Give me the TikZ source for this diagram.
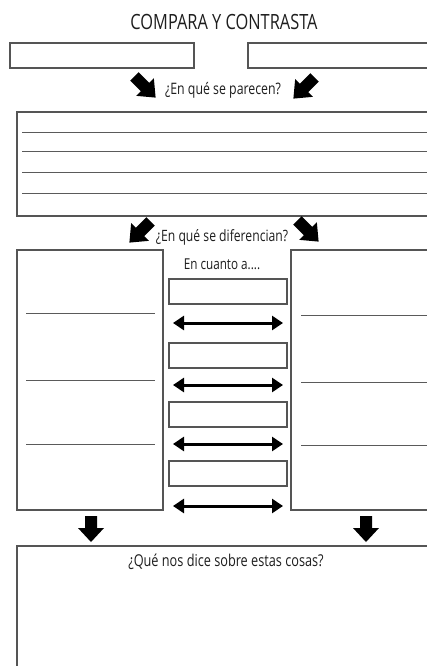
\documentclass[tikz,border=0pt]{standalone}
\usepackage{fontspec}
\setmainfont{Open Sans}[FakeStretch=0.78]
\usetikzlibrary{arrows.meta}
\definecolor{boxgray}{HTML}{555555}
\definecolor{linegray}{HTML}{5A5A5A}
\definecolor{ink}{HTML}{1E1E1E}
\begin{document}
\begin{tikzpicture}[x=1pt,y=-1pt,
  box/.style={draw=boxgray, line width=1.1pt, anchor=north west,
              inner sep=0pt, outer sep=0pt, fill=white},
  writeline/.style={draw=linegray, line width=0.9pt},
  label/.style={text=ink, inner sep=0pt},
  twoway/.style={line width=3pt, black,
                 {Triangle[length=11pt,width=14pt]}-{Triangle[length=11pt,width=14pt]}},
  diagarrow/.pic={\fill[black] (-6,-15) -- (6,-15) -- (6,0) -- (12.5,0)
                   -- (0,15) -- (-12.5,0) -- (-6,0) -- cycle;},
  downarrow/.pic={\fill[black] (-6,-13) -- (6,-13) -- (6,-1) -- (13,-1)
                   -- (0,13) -- (-13,-1) -- (-6,-1) -- cycle;}
]
\useasboundingbox (0,0) rectangle (427,666);
\clip (0,0) rectangle (427,666);
\fill[white] (0,0) rectangle (427,666);

% heading
\node[label, font=\fontsize{21}{21}\selectfont] (title) at (224,22) {COMPARA Y CONTRASTA};

% the two things being compared
\node[box, minimum width=184pt, minimum height=25pt] (thingA) at (10,43) {};
\node[box, minimum width=190pt, minimum height=25pt] (thingB) at (248,43) {};

% similarities
\pic at (145,87) [rotate=45] {diagarrow};
\pic at (304,88) [rotate=-45] {diagarrow};
\node[label, font=\fontsize{15.8}{16}\selectfont] (alike) at (223,90) {¿En qué se parecen?};

\node[box, minimum width=420pt, minimum height=104pt] (same) at (17,112) {};
\foreach \yy in {132,151,172,193}
  \draw[writeline] (22,\yy) -- (432,\yy);

% differences
\pic at (140,232) [rotate=-45] {diagarrow};
\pic at (308,231) [rotate=45] {diagarrow};
\node[label, font=\fontsize{15.6}{16}\selectfont] (differ) at (222,237) {¿En qué se diferencian?};

\node[box, minimum width=146pt, minimum height=260pt] (colA) at (17,250) {};
\node[box, minimum width=150pt, minimum height=260pt] (colB) at (291,250) {};
\foreach \yy in {313,380,444}
  \draw[writeline] (26,\yy) -- (155,\yy);
\foreach \yy in {315,382,445}
  \draw[writeline] (301,\yy) -- (432,\yy);

\node[label, font=\fontsize{15}{15}\selectfont] (regard) at (222,264) {En cuanto a....};

\foreach \i/\yy in {1/279,2/343,3/402,4/461}
  \node[box, minimum width=118pt, minimum height=25pt] (crit\i) at (169,\yy) {};

\foreach \i/\yy in {1/323,2/385,3/444,4/506}{
  \coordinate (l\i) at (173,\yy);
  \coordinate (r\i) at (283,\yy);
  \draw[twoway] (l\i) -- (r\i);
}

% conclusion
\pic at (91,529) {downarrow};
\pic at (366,529) {downarrow};
\node[box, minimum width=420pt, minimum height=130pt] (meaning) at (17,546) {};
\node[label, font=\fontsize{16.3}{16}\selectfont] (ask) at (226,562) {¿Qué nos dice sobre estas cosas?};
\end{tikzpicture}
\end{document}
